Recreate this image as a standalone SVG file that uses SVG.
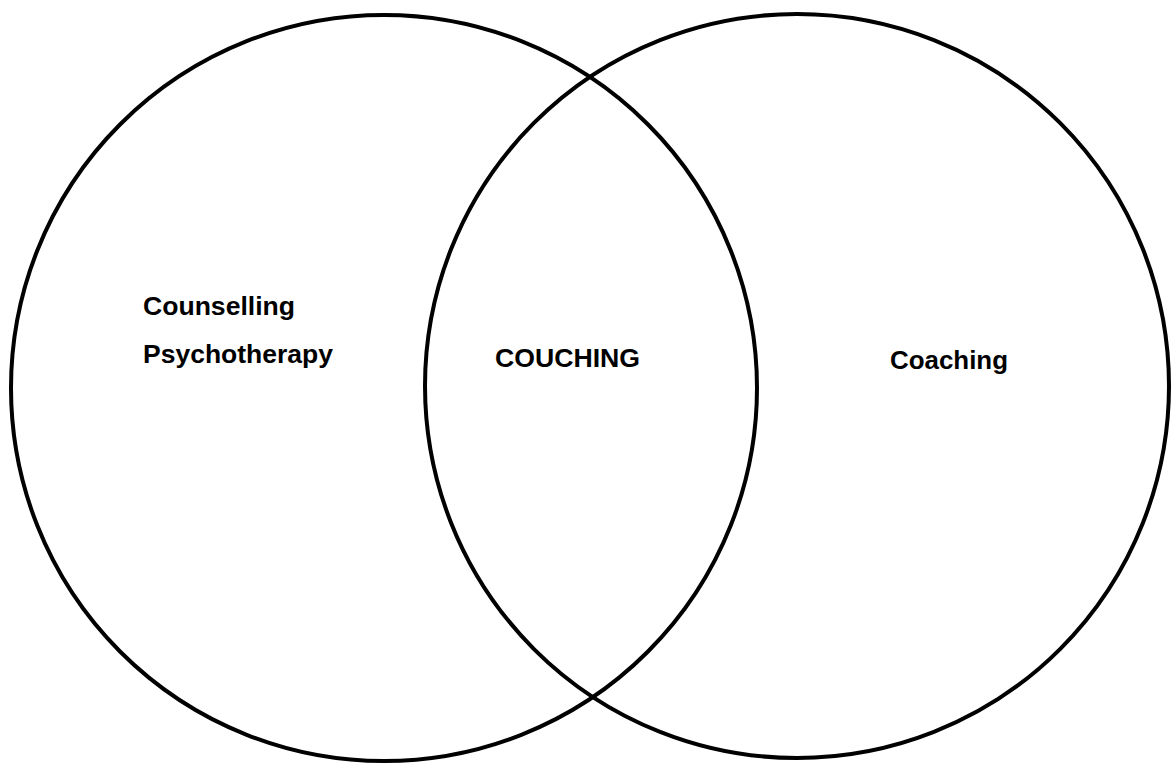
<svg xmlns="http://www.w3.org/2000/svg" width="1174" height="767" viewBox="0 0 1174 767">
<style>
.c{fill:none;stroke:#000;stroke-width:4}
.t{font-family:"Liberation Sans",Arial,sans-serif;font-weight:bold;font-size:25px;fill:#000}
</style>
<rect width="1174" height="767" fill="#fff"/>
<g id="left-circle"><circle class="c" cx="384" cy="388" r="373"/></g>
<g id="right-circle"><circle class="c" cx="797" cy="386" r="372"/></g>
<g id="labels-left">
<text class="t" x="143" y="315" textLength="152" lengthAdjust="spacingAndGlyphs">Counselling</text>
<text class="t" x="143" y="363" textLength="190" lengthAdjust="spacingAndGlyphs">Psychotherapy</text>
</g>
<g id="label-center"><text class="t" x="495" y="367" textLength="145" lengthAdjust="spacingAndGlyphs">COUCHING</text></g>
<g id="label-right"><text class="t" x="890" y="369" textLength="118" lengthAdjust="spacingAndGlyphs">Coaching</text></g>
<g id="connectors"/>
</svg>
